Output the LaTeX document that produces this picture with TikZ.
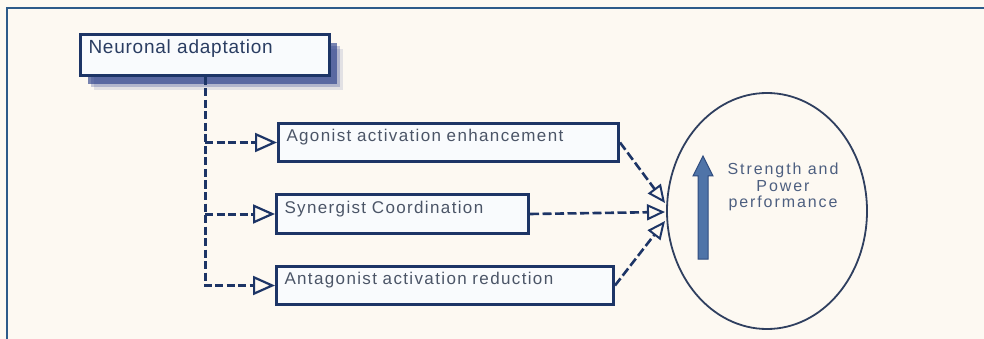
\documentclass[tikz,border=0pt]{standalone}
\usepackage{fontspec}
\setmainfont{Liberation Sans}
\newfontfamily\headfont{Liberation Sans}[LetterSpace=4]
\newfontfamily\boxfont{Liberation Sans}[LetterSpace=8]
\newfontfamily\goalfont{Liberation Sans}[LetterSpace=12]
\usepackage{xcolor}
\usepackage{tikz}
\usetikzlibrary{shapes,arrows.meta,shadows}

\definecolor{paper}{HTML}{FDF9F2}
\definecolor{framecol}{HTML}{2D5B8A}
\definecolor{navy}{HTML}{1D3566}
\definecolor{boxfill}{HTML}{F9FBFD}
\definecolor{boxtext}{HTML}{4B5567}
\definecolor{headtext}{HTML}{2A3D62}
\definecolor{goaltext}{HTML}{4D5F80}
\definecolor{ringcol}{HTML}{2F3F5F}
\definecolor{shadowblue}{HTML}{1F3585}
\definecolor{risefill}{HTML}{4F74A8}
\definecolor{riseedge}{HTML}{2F4C7E}

\tikzset{
    stepbox/.style={draw=navy, line width=3pt, fill=boxfill, anchor=north west,
        align=left, inner xsep=8pt, inner ysep=0pt, text=boxtext,
        font=\boxfont\fontsize{17}{20}\selectfont, text depth=20pt},
    link/.style={draw=navy, line width=3pt, dash pattern=on 8pt off 3.5pt,
        -{Triangle[open, length=22pt, width=19pt, line width=2.2pt]}},
    feed/.style={draw=navy, line width=2.6pt, dash pattern=on 9pt off 3.5pt,
        -{Triangle[open, length=18pt, width=16pt, line width=2pt]}},
}

\begin{document}
\begin{tikzpicture}[x=1pt, y=-1pt]
    \useasboundingbox (0,0) rectangle (984,339);
    \fill[paper] (0,0) rectangle (984,339);
    \draw[framecol, line width=1.5pt] (7,339) -- (7,8) -- (984,8);

    % source
    \node[stepbox, text width=233pt, text height=19pt, text depth=22pt, text=headtext,
        font=\headfont\fontsize{19}{22}\selectfont,
        drop shadow={shadow xshift=13pt, shadow yshift=-15pt, fill=shadowblue, opacity=0.12},
        drop shadow={shadow xshift=10pt, shadow yshift=-12pt, fill=shadowblue, opacity=0.25},
        drop shadow={shadow xshift=7pt, shadow yshift=-9pt, fill=shadowblue, opacity=0.6}]
        (neuro) at (79,33) {Neuronal adaptation};

    % mechanisms
    \node[stepbox, text width=324pt, text height=18pt] (agon) at (277,122) {Agonist activation enhancement};
    \node[stepbox, text width=236pt, text height=19pt] (syn) at (275,193) {Synergist Coordination};
    \node[stepbox, text width=321pt, text height=18pt] (antag) at (275,265) {Antagonist activation reduction};

    % outcome
    \node[ellipse, draw=ringcol, line width=1.8pt, fill=paper, inner sep=0pt,
        minimum width=200pt, minimum height=236pt] (perf) at (767,211) {};
    \node[align=center, text=goaltext, font=\goalfont\fontsize{16}{16.7}\selectfont]
        (goal) at (783,187) {Strength and\\Power\\performance};
    \filldraw[fill=risefill, draw=riseedge, line width=1pt]
        (698,259) -- (698,176) -- (693,176) -- (703,156) -- (713,176) -- (708,176) -- (708,259) -- cycle;

    % branches
    \draw[link] (neuro.south) |- (antag.west);
    \draw[link] (neuro.south |- agon.west) -- (agon.west);
    \draw[link] (neuro.south |- syn.west) -- (syn.west);

    % converge
    \coordinate (hitA) at (665,203);
    \coordinate (hitS) at (665,212);
    \coordinate (hitB) at (665,221);
    \draw[feed] (agon.east) -- (hitA);
    \draw[feed] (syn.east) -- (hitS);
    \draw[feed] (antag.east) -- (hitB);
\end{tikzpicture}
\end{document}
